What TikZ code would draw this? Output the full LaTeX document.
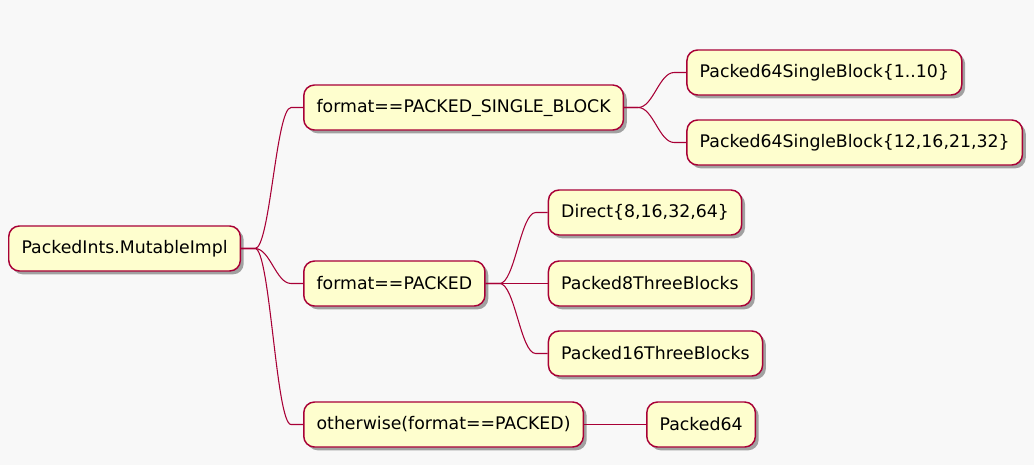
\documentclass[tikz,border=0pt]{standalone}
\usepackage{fontspec}
\setmainfont{DejaVu Sans}
\usepackage{tikz}
\usetikzlibrary{positioning, calc, shadows}
\definecolor{umlred}{HTML}{A80036}
\definecolor{umlyellow}{HTML}{FEFECE}
\definecolor{umlback}{HTML}{F8F8F8}
\tikzstyle{idea} = [rectangle, rounded corners=8pt, minimum height=33.75pt, inner xsep=9.6pt,
text centered, draw=umlred, line width=1.1pt, fill=umlyellow,
drop shadow={shadow xshift=2.5pt, shadow yshift=-2.5pt, fill=black, opacity=0.35},
font=\fontsize{13pt}{15.5pt}\selectfont]
\tikzstyle{branch} = [draw=umlred, line width=0.8pt, to path={-- ++(14,0)
.. controls +(15,0) and ($(\tikztotarget)+(-27,0)$) .. ($(\tikztotarget)+(-12,0)$)
-- (\tikztotarget)}]

\begin{document}
\begin{tikzpicture} [x=0.75pt, y=-0.75pt]
    \path[use as bounding box, fill=umlback] (0,0) rectangle (1034,465);

    \node (root) [idea, anchor=west] at (8,248.5) {PackedInts.MutableImpl};
    \node (fmtone) [idea, right=46.5pt of root, yshift=105.75pt] {format==PACKED\_SINGLE\_BLOCK};
    \node (fmttwo) [idea, right=46.5pt of root, yshift=-26.25pt] {format==PACKED};
    \node (fmtthree) [idea, right=46.5pt of root, yshift=-132pt] {otherwise(format==PACKED)};
    \node (single1) [idea, right=46.5pt of fmtone, yshift=26.25pt] {Packed64SingleBlock\{1..10\}};
    \node (single2) [idea, right=46.5pt of fmtone, yshift=-26.25pt] {Packed64SingleBlock\{12,16,21,32\}};
    \node (direct) [idea, right=46.5pt of fmttwo, yshift=53.25pt] {Direct\{8,16,32,64\}};
    \node (three8) [idea, right=46.5pt of fmttwo] {Packed8ThreeBlocks};
    \node (three16) [idea, right=46.5pt of fmttwo, yshift=-52.5pt] {Packed16ThreeBlocks};
    \node (packed) [idea, right=46.5pt of fmtthree] {Packed64};

    \draw[branch] (root.east) to (fmtone.west);
    \draw[branch] (root.east) to (fmttwo.west);
    \draw[branch] (root.east) to (fmtthree.west);
    \draw[branch] (fmtone.east) to (single1.west);
    \draw[branch] (fmtone.east) to (single2.west);
    \draw[branch] (fmttwo.east) to (direct.west);
    \draw[branch] (fmttwo.east) to (three8.west);
    \draw[branch] (fmttwo.east) to (three16.west);
    \draw[branch] (fmtthree.east) to (packed.west);

\end{tikzpicture}
\end{document}
